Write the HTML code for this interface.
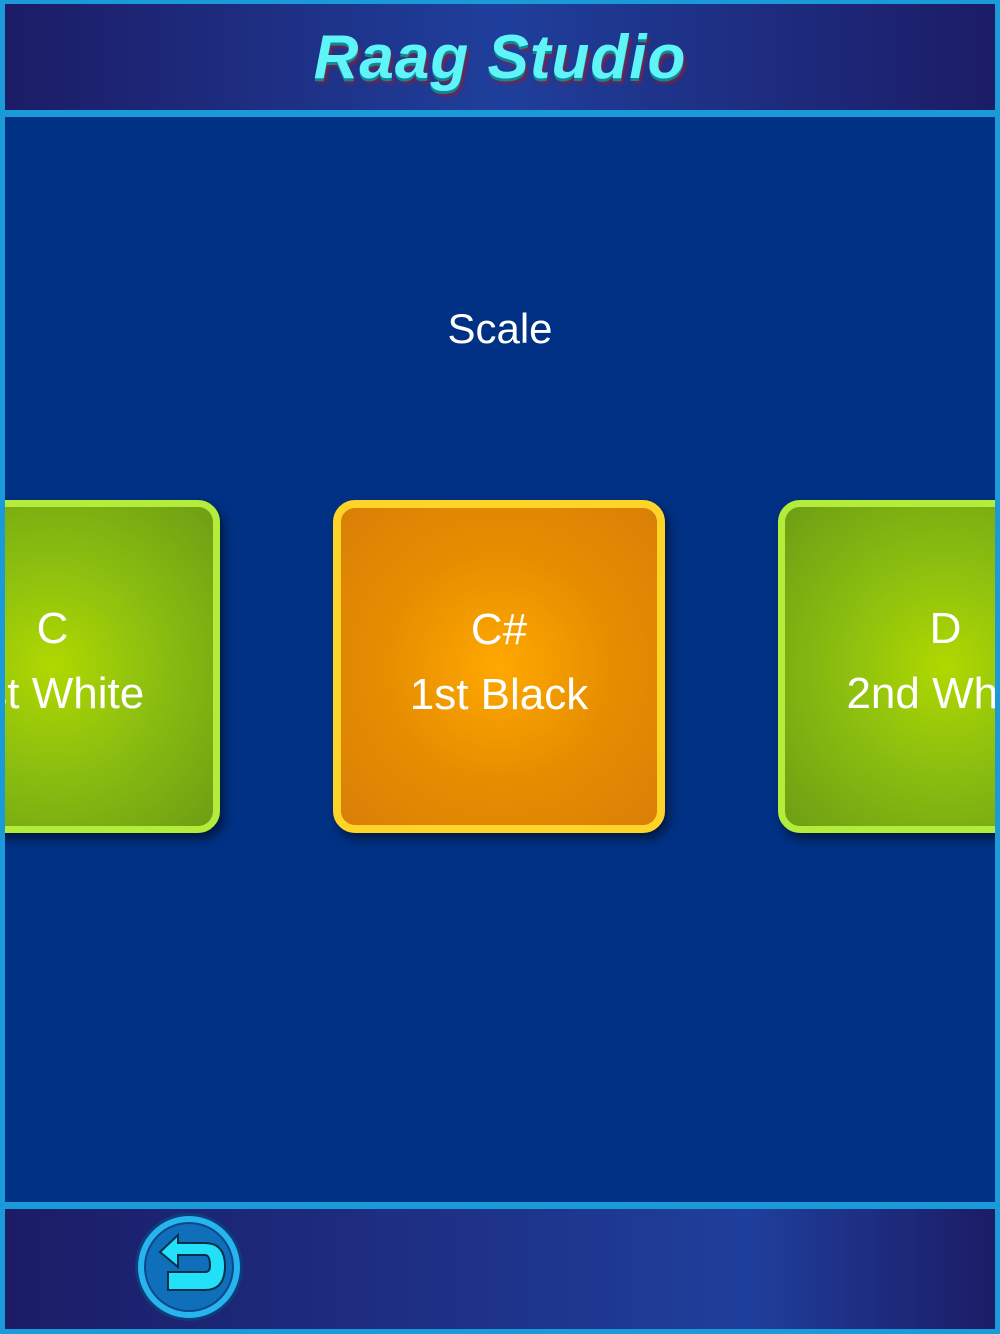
<!DOCTYPE html>
<html><head><style>
body{margin:0;width:1000px;height:1334px;overflow:hidden;background:#1a9ad8;font-family:"Liberation Sans",sans-serif;position:relative}
.hdr{position:absolute;left:5px;top:4px;width:990px;height:106px;background:linear-gradient(90deg,#1c1c66 0%,#1f3f9c 50%,#1c1c66 100%)}
.main{position:absolute;left:5px;top:117px;width:990px;height:1085px;background:#003184;overflow:hidden}
.ftr{position:absolute;left:5px;top:1209px;width:990px;height:120px;background:linear-gradient(90deg,#1c1c66 0%,#1f3f9c 75%,#1c1c66 100%)}
.title{position:absolute;left:0;right:0;top:18px;text-align:center;font-size:62px;font-weight:bold;font-style:italic;color:#5ff4f8;text-shadow:0 3px 0 #0a8a9a,2px 5px 3px #802040;letter-spacing:1px}
.card{position:absolute;top:383px;height:333px;border-radius:22px;box-sizing:border-box;color:#fff;text-align:center;font-size:44px;line-height:64px;box-shadow:4px 6px 10px rgba(0,0,0,.5)}
.g{background:radial-gradient(circle at 50% 50%,#b0d800 0%,#8cbf10 45%,#6e9e14 100%);border:7px solid #b4ec3c}
.o{background:radial-gradient(circle at 50% 50%,#ffa800 0%,#e68e00 50%,#d97f08 100%);border:8px solid #ffd428}
.card div{position:absolute;left:-100px;right:-100px;white-space:nowrap}
</style></head><body>
<div class="hdr"><div class="title">Raag Studio</div></div>
<div class="main">
<div style="position:absolute;left:0;right:0;top:188px;text-align:center;color:#fff;font-size:42px">Scale</div>
<div class="card g" style="left:-120px;width:335px"><div style="top:90px">C</div><div style="top:155px">1st White</div></div>
<div class="card o" style="left:328px;width:332px"><div style="top:90px">C#</div><div style="top:155px">1st Black</div></div>
<div class="card g" style="left:773px;width:335px"><div style="top:90px">D</div><div style="top:155px">2nd White</div></div>
</div>
<div class="ftr">
<svg style="position:absolute;left:128px;top:2px" width="112" height="112" viewBox="0 0 112 112">
<circle cx="56" cy="56" r="54" fill="#0b3e7a"/>
<circle cx="56" cy="56" r="51" fill="#28b4ee"/>
<circle cx="56" cy="56" r="44" fill="#0f6fba" stroke="#0a4a8a" stroke-width="2"/>
<path d="M27 41 L45 24 L45 32 L72 32 Q92 32 92 55 Q92 79 72 79 L35 79 L35 61 L72 61 Q77 61 77 55 Q77 44 72 44 L45 44 L45 56 Z" fill="#22e0f8" stroke="#06304a" stroke-width="2"/>
</svg>
</div>
</body></html>
